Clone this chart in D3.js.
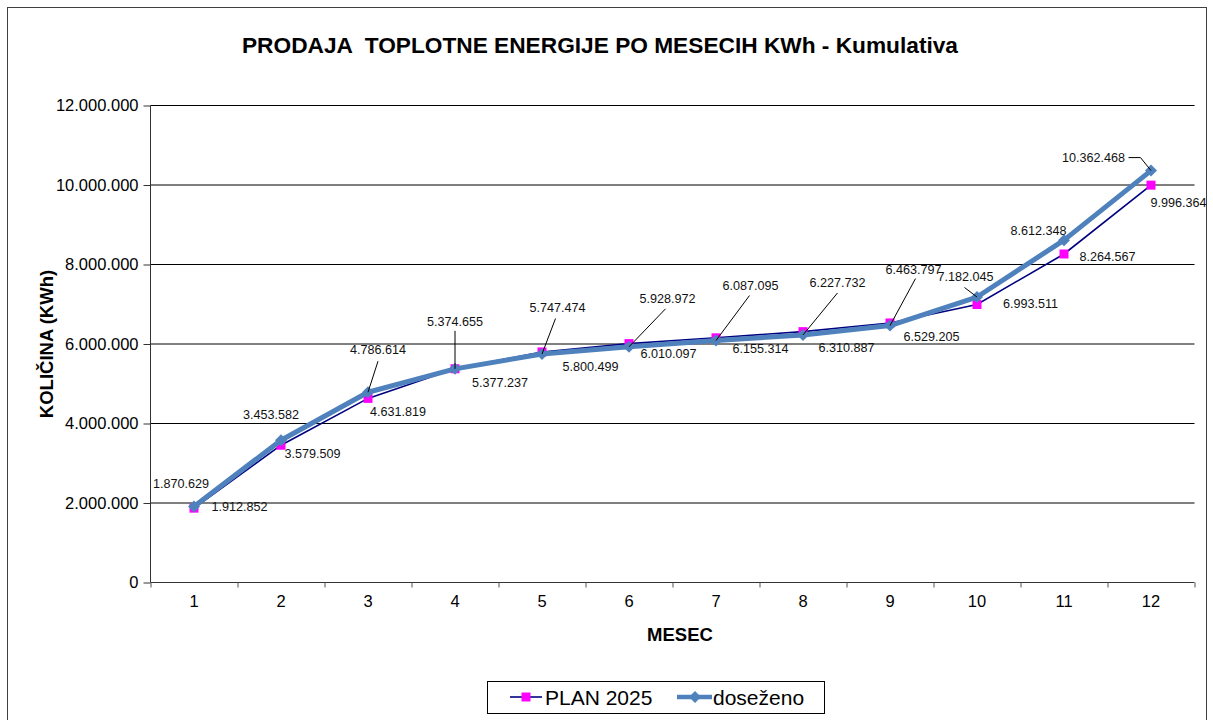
<!DOCTYPE html>
<html>
<head>
<meta charset="utf-8">
<script src="https://cdn.jsdelivr.net/npm/d3@7"></script>
<style>
  body { margin: 0; background: #fff; }
  svg { display: block; font-family: "Liberation Sans", Arial, sans-serif; }
</style>
</head>
<body>
<svg id="chart" width="1213" height="720"></svg>
<script>
// values
const months = [1, 2, 3, 4, 5, 6, 7, 8, 9, 10, 11, 12];
const plan2025 = [1870629, 3453582, 4631819, 5377237, 5800499, 6010097, 6155314, 6310887, 6529205, 6993511, 8264567, 9996364];
const dosezeno = [1912852, 3579509, 4786614, 5374655, 5747474, 5928972, 6087095, 6227732, 6463797, 7182045, 8612348, 10362468];
const yTicks = [0, 2000000, 4000000, 6000000, 8000000, 10000000, 12000000];

// where the data labels sit relative to their marker (hand dragged in the original)
const planLabelPos = [[-13,-24],[-10,-30],[30,14],[45,14],[48.5,14.6],[39.5,10],[44.5,10.7],[43.5,16],[41.5,14.5],[53.5,-1],[43.5,3.5],[27.5,17.4]];
const dosLabelPos = [[45.5,1],[31.5,13.3],[10,-42],[0,-47],[15.5,-46.5],[38.5,-48],[34.5,-55],[34.5,-52],[23.5,-56],[-11.5,-20.5],[-25.5,-8.7],[-57.5,-13]];
const dosLeaders = [null, null, [[10,-31]], [[0,-38]], [[13.5,-35.5]], [[36.5,-38]], [[33.5,-45]], [[34.5,-42]], [[25.5,-47]], [[-12.5,-9.5]], null, [[-22.5,-13],[-10.5,-13]]];

const svg = d3.select("#chart");
const PLAN_COL = "#000080", MARK_COL = "#FF00FF", DOS_COL = "#4F81BD";

// outer frame
svg.append("rect")
    .attr("x", 7.5).attr("y", 7.5)
    .attr("width", 1199).attr("height", 740)
    .attr("fill", "none").attr("stroke", "#404040");

const plotLeft = 150.5, plotRight = 1194.5, plotTop = 105.5, plotBottom = 582.5;

const x = d3.scaleBand().domain(months).range([plotLeft, plotRight]).padding(0);
const xEdge = d3.scaleLinear().domain([0, 12]).range([plotLeft, plotRight]);
const y = d3.scaleLinear().domain([0, 12000000]).range([plotBottom, plotTop]);
const cx = d => x(d) + x.bandwidth() / 2;

const fmt = v => d3.format(",")(v).replace(/,/g, ".");

// gridlines
svg.append("g")
    .selectAll("line")
    .data(yTicks.filter(v => v > 0))
    .enter().append("line")
    .attr("x1", plotLeft).attr("x2", plotRight)
    .attr("y1", d => y(d)).attr("y2", d => y(d))
    .attr("stroke", "#000").attr("stroke-width", 1);

// y axis
const yAxis = svg.append("g")
    .attr("transform", `translate(${plotLeft},0)`)
    .call(d3.axisLeft(y).tickValues(yTicks).tickSize(7).tickPadding(5).tickFormat(fmt));
yAxis.selectAll("text").attr("font-size", "16.5px").attr("fill", "#000").attr("font-family", "Liberation Sans, Arial, sans-serif");
yAxis.selectAll("line").attr("stroke", "#333");
yAxis.select(".domain").attr("stroke", "#333").attr("d", `M0,${plotBottom}V${plotTop}`);

// x axis: labels centred in bands, ticks on the band edges
const xAxis = svg.append("g")
    .attr("transform", `translate(0,${plotBottom})`)
    .call(d3.axisBottom(x).tickSize(0).tickPadding(13));
xAxis.selectAll("text").attr("font-size", "16.5px").attr("fill", "#000").attr("font-family", "Liberation Sans, Arial, sans-serif");
xAxis.select(".domain").remove();

const xTicks = svg.append("g")
    .attr("transform", `translate(0,${plotBottom})`)
    .call(d3.axisBottom(xEdge).tickValues(d3.range(13)).tickSize(5).tickFormat(""));
xTicks.selectAll("line").attr("stroke", "#555");
xTicks.select(".domain").attr("stroke", "#333").attr("d", `M${plotLeft},0H${plotRight}`);

// titles
svg.append("text")
    .attr("x", 600).attr("y", 45)
    .attr("text-anchor", "middle").attr("dominant-baseline", "central")
    .attr("font-size", "22.7px").attr("font-weight", "bold")
    .style("white-space", "pre")
    .text("PRODAJA  TOPLOTNE ENERGIJE PO MESECIH KWh - Kumulativa");

svg.append("text")
    .attr("x", 680).attr("y", 634)
    .attr("text-anchor", "middle").attr("dominant-baseline", "central")
    .attr("font-size", "18.5px").attr("font-weight", "bold")
    .text("MESEC");

svg.append("text")
    .attr("transform", "translate(46,344) rotate(-90)")
    .attr("text-anchor", "middle").attr("dominant-baseline", "central")
    .attr("font-size", "18.5px").attr("font-weight", "bold")
    .text("KOLIČINA (KWh)");

// series
const planPts = months.map((m, i) => ({ m: m, v: plan2025[i], px: cx(m), py: y(plan2025[i]) }));
const dosPts = months.map((m, i) => ({ m: m, v: dosezeno[i], px: cx(m), py: y(dosezeno[i]) }));

const line = d3.line().x(d => d.px).y(d => d.py);

svg.append("path")
    .datum(planPts)
    .attr("d", line)
    .attr("fill", "none").attr("stroke", PLAN_COL).attr("stroke-width", 1.6);

svg.append("g")
    .selectAll("rect")
    .data(planPts)
    .enter().append("rect")
    .attr("x", d => d.px - 4.5).attr("y", d => d.py - 4.5)
    .attr("width", 9).attr("height", 9)
    .attr("fill", MARK_COL);

svg.append("path")
    .datum(dosPts)
    .attr("d", line)
    .attr("fill", "none").attr("stroke", DOS_COL).attr("stroke-width", 5)
    .attr("stroke-linejoin", "round");

const diamond = (px, py, r) => `M${px},${py - r}L${px + r},${py}L${px},${py + r}L${px - r},${py}Z`;

svg.append("g")
    .selectAll("path")
    .data(dosPts)
    .enter().append("path")
    .attr("d", d => diamond(d.px, d.py, 6))
    .attr("fill", DOS_COL);

// leader lines
svg.append("g")
    .selectAll("polyline")
    .data(dosPts.filter((d, i) => dosLeaders[i]))
    .enter().append("polyline")
    .attr("points", d => {
        const pts = dosLeaders[d.m - 1].map(p => [d.px + p[0], d.py + p[1]]);
        pts.push([d.px, d.py]);
        return pts.map(p => p.join(",")).join(" ");
    })
    .attr("fill", "none").attr("stroke", "#000").attr("stroke-width", 1);

// data labels
function addLabels(pts, pos) {
    svg.append("g")
        .selectAll("text")
        .data(pts)
        .enter().append("text")
        .attr("x", (d, i) => d.px + pos[i][0])
        .attr("y", (d, i) => d.py + pos[i][1])
        .attr("text-anchor", "middle").attr("dominant-baseline", "central")
        .attr("font-size", "12.6px").attr("fill", "#111")
        .text(d => fmt(d.v));
}
addLabels(planPts, planLabelPos);
addLabels(dosPts, dosLabelPos);

// legend
const legend = svg.append("g");
legend.append("rect")
    .attr("x", 487.5).attr("y", 681.5).attr("width", 337).attr("height", 32)
    .attr("fill", "#fff").attr("stroke", "#000");
legend.append("line")
    .attr("x1", 510).attr("x2", 542).attr("y1", 697).attr("y2", 697)
    .attr("stroke", PLAN_COL).attr("stroke-width", 1.6);
legend.append("rect")
    .attr("x", 521.5).attr("y", 692.5).attr("width", 9).attr("height", 9)
    .attr("fill", MARK_COL);
legend.append("text")
    .attr("x", 545).attr("y", 697.5).attr("dominant-baseline", "central")
    .attr("font-size", "21px").text("PLAN 2025");
legend.append("line")
    .attr("x1", 677).attr("x2", 712).attr("y1", 697).attr("y2", 697)
    .attr("stroke", DOS_COL).attr("stroke-width", 4.5);
legend.append("path")
    .attr("d", diamond(695, 697, 6))
    .attr("fill", DOS_COL);
legend.append("text")
    .attr("x", 713).attr("y", 697.5).attr("dominant-baseline", "central")
    .attr("font-size", "21px").text("doseženo");
</script>
</body>
</html>
